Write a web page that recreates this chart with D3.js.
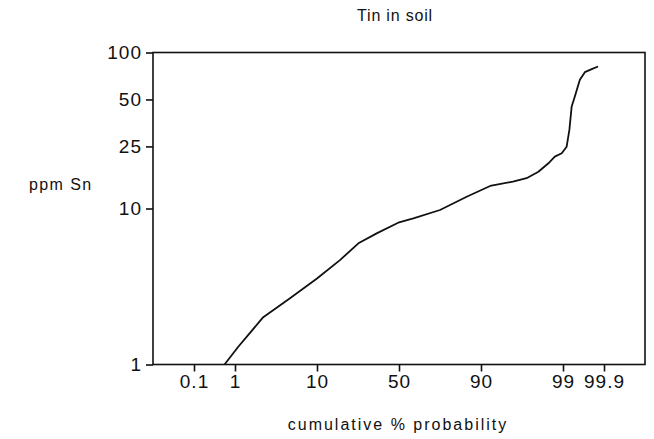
<!DOCTYPE html>
<html>
<head>
<meta charset="utf-8">
<script src="https://cdn.jsdelivr.net/npm/d3@7"></script>
<style>
  body { margin: 0; background: #fff; }
  svg { display: block; font-family: "Liberation Sans", Arial, sans-serif; }
  text { fill: #111; }
</style>
</head>
<body>
<svg width="654" height="439"></svg>
<script>
// cumulative probability (%) and tin content (ppm)
var probability = [0.77, 1.36, 4.1, 7.0, 10, 21.2, 30.2, 39.1, 49.6, 57, 70, 83, 91,
  93.5, 95, 96.3, 97.4, 98.1, 98.86, 99.08, 99.14, 99.19, 99.26, 99.37, 99.48, 99.63, 99.77];
var ppmSn = [1, 1.3, 2.01, 2.65, 3.56, 4.67, 5.98, 6.93, 8.11, 8.65, 9.78, 11.9, 13.95,
  14.86, 15.63, 17.2, 19.5, 21.5, 22.6, 24.9, 31.9, 45, 52.2, 66.8, 74.8, 78.3, 81.3];

var xTicks = [0.1, 1, 10, 50, 90, 99, 99.9];
var yTicks = [1, 10, 25, 50, 100];

var margin = { top: 52.5, right: 9, bottom: 74.5, left: 153 };
var width = 654 - margin.left - margin.right;
var height = 439 - margin.top - margin.bottom;

var svg = d3.select("svg");
var g = svg
  .append("g")
  .attr("transform", "translate(" + margin.left + "," + margin.top + ")");

// probability paper as printed: ticks spaced evenly, tails at half steps
var unit = width / 6;
var x = d3
  .scaleLinear()
  .domain([0.01].concat(xTicks, [99.99]))
  .range([0, 0.5, 1, 2, 3, 4, 5, 5.5, 6].map(function (u) { return u * unit; }));

var y = d3.scaleLog().domain([1, 100]).range([height, 0]);

g.append("rect")
  .attr("width", width)
  .attr("height", height)
  .attr("fill", "none")
  .attr("stroke", "#111")
  .attr("stroke-width", 1.6);

var xAxis = g
  .append("g")
  .attr("transform", "translate(0," + height + ")")
  .call(d3.axisBottom(x).tickValues(xTicks).tickSize(7).tickPadding(3)
    .tickFormat(function (d) { return String(d); }));

var yAxis = g
  .append("g")
  .call(d3.axisLeft(y).tickValues(yTicks).tickSize(7).tickPadding(4)
    .tickFormat(d3.format("d")));

[xAxis, yAxis].forEach(function (a) {
  a.select(".domain").remove();
  a.selectAll(".tick line").attr("stroke", "#111").attr("stroke-width", 1.6);
  a.selectAll(".tick text")
    .attr("fill", "#111")
    .style("font-size", "19px")
    .style("letter-spacing", "1px")
    .style("font-family", "Liberation Sans, Arial, sans-serif");
});

var line = d3
  .line()
  .x(function (d) { return x(d[0]); })
  .y(function (d) { return y(d[1]); });

g.append("path")
  .datum(d3.zip(probability, ppmSn))
  .attr("fill", "none")
  .attr("stroke", "#111")
  .attr("stroke-width", 1.8)
  .attr("stroke-linejoin", "round")
  .attr("d", line);

svg.append("text")
  .attr("x", 395)
  .attr("y", 21)
  .attr("text-anchor", "middle")
  .style("font-size", "16px")
  .style("letter-spacing", "0.8px")
  .text("Tin in soil");

svg.append("text")
  .attr("x", 29)
  .attr("y", 190)
  .style("font-size", "16px")
  .style("letter-spacing", "1.4px")
  .text("ppm Sn");

svg.append("text")
  .attr("x", 398)
  .attr("y", 430)
  .attr("text-anchor", "middle")
  .style("font-size", "16px")
  .style("letter-spacing", "2px")
  .text("cumulative % probability");
</script>
</body>
</html>
